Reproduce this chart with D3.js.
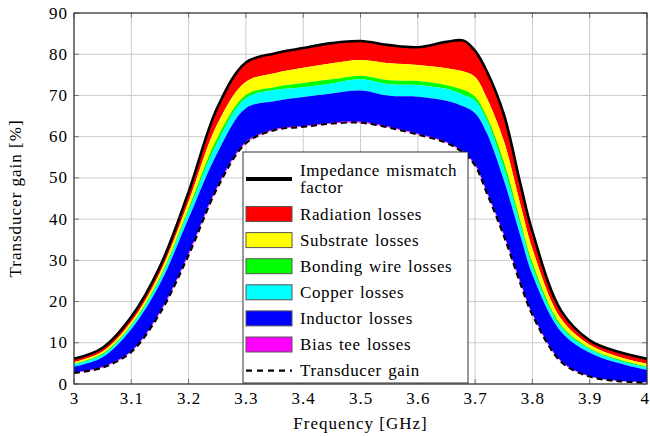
<!DOCTYPE html>
<html>
<head>
<meta charset="utf-8">
<script src="https://cdn.jsdelivr.net/npm/d3@7"></script>
<style>
  body { margin: 0; background: #fff; }
  text { font-family: "Liberation Serif", "DejaVu Serif", serif; fill: #000; }
</style>
</head>
<body>
<svg id="chart"></svg>
<script>
const margin = { top: 13, right: 3, bottom: 52, left: 74 },
    width = 650 - margin.left - margin.right,
    height = 436 - margin.top - margin.bottom;

// frequency samples [GHz]
const freq = [3.00, 3.05, 3.10, 3.15, 3.20, 3.25, 3.30, 3.35, 3.40, 3.45, 3.50, 3.55,
    3.60, 3.65, 3.68, 3.70, 3.72, 3.75, 3.78, 3.80, 3.85, 3.90, 3.95, 4.00];

// gain [%] remaining after each loss mechanism
const mismatch  = [6.1, 8.8, 16.3, 28.5, 46.6, 67.0, 78.0, 80.2, 81.5, 82.7, 83.2, 82.2, 81.7, 83.0, 83.3, 80.8, 76.0, 65.5, 48.0, 37.0, 17.8, 10.6, 7.8, 6.1];
const afterRad  = [5.3, 7.9, 15.1, 27.0, 44.3, 63.0, 73.3, 75.4, 76.7, 77.8, 78.6, 77.8, 77.4, 76.6, 75.8, 74.5, 69.5, 59.0, 43.0, 32.8, 15.8, 9.5, 6.6, 4.9];
const afterSub  = [4.9, 7.4, 14.4, 25.9, 42.6, 59.7, 70.1, 72.0, 73.0, 73.9, 74.8, 73.7, 73.5, 72.5, 71.3, 69.7, 65.0, 54.0, 39.0, 29.4, 14.3, 8.7, 6.0, 4.2];
const afterBond = [4.8, 7.1, 14.1, 25.4, 41.9, 58.5, 69.3, 71.3, 72.0, 72.9, 73.9, 72.7, 72.5, 71.6, 70.1, 68.7, 64.0, 52.5, 38.0, 28.4, 13.8, 8.4, 5.7, 4.0];
const afterCop  = [4.2, 6.5, 13.3, 24.3, 40.2, 56.0, 66.9, 68.6, 69.6, 70.5, 71.2, 69.9, 69.7, 68.7, 67.3, 65.7, 61.0, 49.5, 35.5, 26.5, 12.7, 7.6, 5.1, 3.4];
const afterInd  = [2.8, 4.2, 8.0, 17.5, 31.7, 47.9, 58.7, 61.8, 62.6, 63.4, 63.6, 62.4, 60.7, 58.7, 56.2, 53.3, 46.8, 36.4, 24.4, 17.1, 5.6, 1.9, 0.8, 0.4];
const transducer = [2.7, 4.0, 7.8, 17.2, 31.3, 47.5, 58.4, 61.6, 62.4, 63.2, 63.4, 62.2, 60.5, 58.5, 56.0, 53.0, 46.5, 36.0, 24.0, 16.8, 5.4, 1.8, 0.7, 0.3];

const xTicks = [3, 3.1, 3.2, 3.3, 3.4, 3.5, 3.6, 3.7, 3.8, 3.9, 4];
const yTicks = [0, 10, 20, 30, 40, 50, 60, 70, 80, 90];

const bands = [
    { name: "Radiation losses", color: "#ff0000", top: mismatch, bottom: afterRad },
    { name: "Substrate losses", color: "#ffff00", top: afterRad, bottom: afterSub },
    { name: "Bonding wire losses", color: "#00ff00", top: afterSub, bottom: afterBond },
    { name: "Copper losses", color: "#00ffff", top: afterBond, bottom: afterCop },
    { name: "Inductor losses", color: "#0000ff", top: afterCop, bottom: afterInd },
    { name: "Bias tee losses", color: "#ff00ff", top: afterInd, bottom: transducer }
];

const svg = d3.select("#chart")
    .attr("width", width + margin.left + margin.right)
    .attr("height", height + margin.top + margin.bottom)
    .append("g")
    .attr("transform", `translate(${margin.left}, ${margin.top})`);

const x = d3.scaleLinear().domain([3, 4]).range([0, width]);
const y = d3.scaleLinear().domain([0, 90]).range([height, 0]);
const curve = d3.curveCatmullRom.alpha(0.5);

// grid
svg.append("g")
    .selectAll("line")
    .data(xTicks)
    .enter()
    .append("line")
    .attr("x1", d => x(d)).attr("x2", d => x(d))
    .attr("y1", 0).attr("y2", height)
    .style("stroke", "#cccccc").style("stroke-width", 1);
svg.append("g")
    .selectAll("line")
    .data(yTicks)
    .enter()
    .append("line")
    .attr("x1", 0).attr("x2", width)
    .attr("y1", d => y(d)).attr("y2", d => y(d))
    .style("stroke", "#cccccc").style("stroke-width", 1);

// stacked loss bands
bands.forEach(function (b) {
    const area = d3.area()
        .x((d, i) => x(freq[i]))
        .y0((d, i) => y(b.bottom[i]))
        .y1((d, i) => y(b.top[i]))
        .curve(curve);
    svg.append("path")
        .datum(freq)
        .attr("d", area)
        .style("fill", b.color)
        .style("stroke", "none");
});

const line = arr => d3.line()
    .x((d, i) => x(freq[i]))
    .y((d, i) => y(arr[i]))
    .curve(curve)(freq);

svg.append("path")
    .attr("d", line(transducer))
    .style("fill", "none")
    .style("stroke", "#000")
    .style("stroke-width", 2.2)
    .style("stroke-dasharray", "6,4");

svg.append("path")
    .attr("d", line(mismatch))
    .style("fill", "none")
    .style("stroke", "#000")
    .style("stroke-width", 2.6);

// ticks (inward, both sides)
const tickLen = 5;
const tk = svg.append("g").style("stroke", "#777").style("stroke-width", 1);
xTicks.forEach(function (t) {
    tk.append("line").attr("x1", x(t)).attr("x2", x(t)).attr("y1", height).attr("y2", height - tickLen);
    tk.append("line").attr("x1", x(t)).attr("x2", x(t)).attr("y1", 0).attr("y2", tickLen);
});
yTicks.forEach(function (t) {
    tk.append("line").attr("x1", 0).attr("x2", tickLen).attr("y1", y(t)).attr("y2", y(t));
    tk.append("line").attr("x1", width).attr("x2", width - tickLen).attr("y1", y(t)).attr("y2", y(t));
});

// frame
svg.append("rect")
    .attr("x", 0).attr("y", 0)
    .attr("width", width).attr("height", height)
    .style("fill", "none").style("stroke", "#333").style("stroke-width", 1.2);

// tick labels
svg.append("g")
    .selectAll("text")
    .data(xTicks)
    .enter()
    .append("text")
    .attr("x", d => d === 4 ? width + 2 : x(d) + 0.5)
    .attr("y", height + 20)
    .attr("text-anchor", d => d === 4 ? "end" : "middle")
    .style("font-size", "17px")
    .style("letter-spacing", d => d === 4 ? "0px" : "1px")
    .text(d => d);
svg.append("g")
    .selectAll("text")
    .data(yTicks)
    .enter()
    .append("text")
    .attr("x", -6)
    .attr("y", d => y(d) + 5.5)
    .attr("text-anchor", "end")
    .style("font-size", "17px")
    .style("letter-spacing", "1px")
    .text(d => d);

// axis titles
svg.append("text")
    .attr("x", width / 2)
    .attr("y", height + 45)
    .attr("text-anchor", "middle")
    .style("font-size", "17px")
    .style("letter-spacing", "1px")
    .text("Frequency [GHz]");
svg.append("text")
    .attr("transform", `translate(${-53}, ${height / 2}) rotate(-90)`)
    .attr("text-anchor", "middle")
    .style("font-size", "17px")
    .style("letter-spacing", "1px")
    .text("Transducer gain [%]");

// legend
const lg = svg.append("g").attr("transform", `translate(${243 - margin.left}, ${152 - margin.top})`);
lg.append("rect")
    .attr("x", 0).attr("y", 0)
    .attr("width", 225).attr("height", 231)
    .style("fill", "#fff").style("stroke", "#333").style("stroke-width", 1);

const legendText = function (tx, ty, s) {
    lg.append("text").attr("x", tx).attr("y", ty)
        .style("font-size", "17px")
        .style("letter-spacing", "0.6px")
        .style("word-spacing", "1.5px")
        .text(s);
};

lg.append("line")
    .attr("x1", 3).attr("x2", 49).attr("y1", 27).attr("y2", 27)
    .style("stroke", "#000").style("stroke-width", 4);
legendText(57, 23.5, "Impedance mismatch");
legendText(57, 41, "factor");

bands.forEach(function (b, i) {
    const cy = 62 + 26.1 * i;
    lg.append("rect")
        .attr("x", 3).attr("y", cy - 7.5)
        .attr("width", 46).attr("height", 15)
        .style("fill", b.color).style("stroke", "#555").style("stroke-width", 1);
    legendText(57, cy + 5.5, b.name);
});
const cyT = 62 + 26.1 * 6;
lg.append("line")
    .attr("x1", 3).attr("x2", 49).attr("y1", cyT).attr("y2", cyT)
    .style("stroke", "#000").style("stroke-width", 2.2)
    .style("stroke-dasharray", "6,5");
legendText(57, cyT + 5.5, "Transducer gain");
</script>
</body>
</html>
